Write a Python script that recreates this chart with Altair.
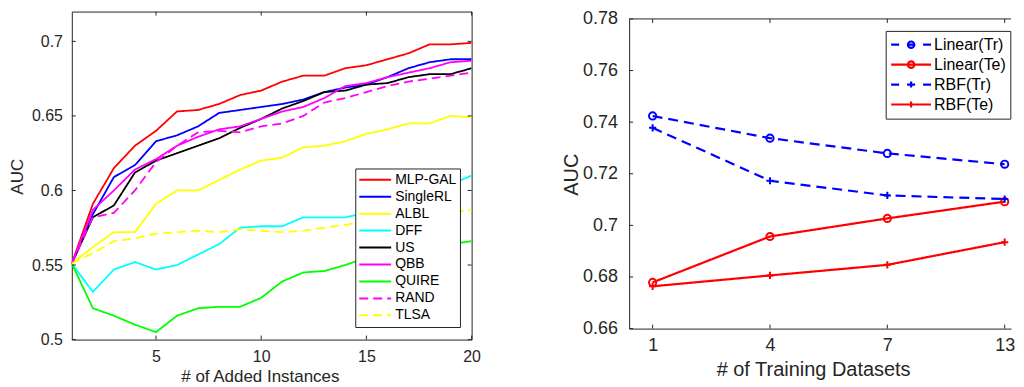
import json
import altair as alt
import pandas as pd

FONT = "Liberation Sans"
AX = "#262626"

# ---------------- left panel data ----------------
added = list(range(1, 21))
methods = ["MLP-GAL", "SingleRL", "ALBL", "DFF", "US", "QBB", "QUIRE", "RAND", "TLSA"]
method_colors = ["#ff0000", "#0000ff", "#ffff00", "#00ffff", "#000000",
                 "#ff00ff", "#00ff00", "#ff00ff", "#ffff00"]
method_dash = [[1, 0], [1, 0], [1, 0], [1, 0], [1, 0], [1, 0], [1, 0], [9, 5], [9, 5]]

mlp_gal = [0.551, 0.591, 0.615, 0.630, 0.640, 0.653, 0.654, 0.658, 0.664, 0.667,
           0.673, 0.677, 0.677, 0.682, 0.684, 0.688, 0.692, 0.698, 0.698, 0.699]
single_rl = [0.551, 0.584, 0.609, 0.617, 0.633, 0.637, 0.643, 0.652, 0.654, 0.656,
             0.658, 0.661, 0.666, 0.669, 0.671, 0.676, 0.682, 0.686, 0.688, 0.688]
albl = [0.551, 0.562, 0.572, 0.572, 0.591, 0.600, 0.600, 0.607, 0.614, 0.620,
        0.622, 0.629, 0.630, 0.633, 0.638, 0.641, 0.645, 0.645, 0.650, 0.649]
dff = [0.551, 0.532, 0.547, 0.552, 0.547, 0.550, 0.557, 0.564, 0.575, 0.576,
       0.576, 0.582, 0.582, 0.582, 0.585, 0.589, 0.594, 0.598, 0.604, 0.610]
us = [0.551, 0.582, 0.590, 0.612, 0.620, 0.625, 0.630, 0.635, 0.642, 0.648,
      0.655, 0.660, 0.666, 0.667, 0.671, 0.672, 0.676, 0.678, 0.678, 0.682]
qbb = [0.551, 0.587, 0.600, 0.614, 0.621, 0.630, 0.636, 0.641, 0.643, 0.648,
       0.653, 0.656, 0.662, 0.670, 0.672, 0.676, 0.679, 0.682, 0.686, 0.687]
quire = [0.551, 0.521, 0.516, 0.510, 0.505, 0.516, 0.521, 0.522, 0.522, 0.528,
         0.539, 0.545, 0.546, 0.550, 0.555, 0.558, 0.560, 0.562, 0.564, 0.566]
rand = [0.551, 0.582, 0.585, 0.600, 0.619, 0.630, 0.639, 0.640, 0.639, 0.643,
        0.645, 0.650, 0.659, 0.662, 0.666, 0.670, 0.673, 0.675, 0.677, 0.679]
tlsa = [0.551, 0.558, 0.566, 0.568, 0.571, 0.572, 0.573, 0.572, 0.574, 0.573,
        0.572, 0.573, 0.575, 0.577, 0.579, 0.580, 0.582, 0.583, 0.585, 0.587]
left_series = [mlp_gal, single_rl, albl, dff, us, qbb, quire, rand, tlsa]
left_xticks = [5, 10, 15, 20]
left_yticks = [0.5, 0.55, 0.6, 0.65, 0.7]

# ---------------- right panel data ----------------
datasets = ["1", "4", "7", "13"]
series = ["Linear(Tr)", "Linear(Te)", "RBF(Tr)", "RBF(Te)"]
series_colors = ["#0000ff", "#ff0000", "#0000ff", "#ff0000"]
series_dash = [[10, 6], [1, 0], [10, 6], [1, 0]]
linear_tr = [0.7424, 0.7338, 0.7279, 0.7237]
linear_te = [0.6779, 0.6957, 0.7027, 0.7092]
rbf_tr = [0.7378, 0.7173, 0.7116, 0.7102]
rbf_te = [0.6764, 0.6806, 0.6847, 0.6935]
right_series = [linear_tr, linear_te, rbf_tr, rbf_te]
right_yticks = [0.66, 0.68, 0.7, 0.72, 0.74, 0.76, 0.78]

# marker shapes (unit square paths)
CIRCLE = "circle"
PLUS = "M-1,0H1M0,-1V1"
LEG_TR_CIRCLE = "M-1,0H-0.6M-0.2,0H0.2M0.6,0H1M0.16,0A0.16,0.16,0,1,1,-0.16,0A0.16,0.16,0,1,1,0.16,0"
LEG_TE_CIRCLE = "M-1,0H1M0.16,0A0.16,0.16,0,1,1,-0.16,0A0.16,0.16,0,1,1,0.16,0"
LEG_TR_PLUS = "M-1,0H-0.6M-0.2,0H0.2M0.6,0H1M0,-0.15V0.15"
LEG_TE_PLUS = "M-1,0H1M0,-0.15V0.15"

ldf = pd.DataFrame([
    {"x": x, "auc": v, "method": m}
    for m, vals in zip(methods, left_series)
    for x, v in zip(added, vals)
])
rdf = pd.DataFrame([
    {"idx": i, "datasets": d, "auc": v, "series": s}
    for s, vals in zip(series, right_series)
    for i, (d, v) in enumerate(zip(datasets, vals))
])

# ---------------- left chart ----------------
LW, LH = 401, 329
lxs = alt.Scale(domain=[1, 20], nice=False, zero=False, padding=0)
lys = alt.Scale(domain=[0.5, 0.72], nice=False, zero=False, padding=0)

left_legend = alt.Legend(
    title=None, orient="none", legendX=284.3, legendY=157.4,
    symbolType="stroke", symbolSize=1024, symbolStrokeWidth=2,
    labelFontSize=14, labelFont=FONT, labelColor="#000000",
    clipHeight=16.6, rowPadding=0, padding=3, labelOffset=3,
    strokeColor=AX, fillColor="white",
)

left_lines = alt.Chart(ldf).mark_line(strokeWidth=1.8, clip=True).encode(
    x=alt.X("x:Q", scale=lxs, axis=alt.Axis(
        values=left_xticks, format="d", title="# of Added Instances",
        grid=False, ticks=False, tickSize=0, domain=False, labelFlush=False,
        labelFontSize=16, labelFont=FONT, labelColor=AX, labelPadding=8.5,
        titleFontSize=17, titleFont=FONT, titleFontWeight="normal", titleColor=AX,
        titleX=188.6, titleY=42.2, titleBaseline="alphabetic", titleAlign="center")),
    y=alt.Y("auc:Q", scale=lys, axis=alt.Axis(
        values=left_yticks, format="~g", title="AUC",
        grid=False, ticks=False, tickSize=0, domain=False,
        labelFontSize=16, labelFont=FONT, labelColor=AX, labelPadding=9.4,
        titleFontSize=17, titleFont=FONT, titleFontWeight="normal", titleColor=AX,
        titleAngle=270, titleX=-49.5, titleY=165.2, titleBaseline="alphabetic",
        titleAlign="center")),
    color=alt.Color("method:N", scale=alt.Scale(domain=methods, range=method_colors),
                    legend=left_legend),
    strokeDash=alt.StrokeDash("method:N", scale=alt.Scale(domain=methods, range=method_dash),
                              legend=left_legend),
)

lyt = pd.DataFrame({"auc": left_yticks})
lxt = pd.DataFrame({"x": left_xticks})
tick_l = alt.Chart(lyt).mark_rule(color=AX, strokeWidth=1).encode(
    y=alt.Y("auc:Q", scale=lys), x=alt.value(0), x2=alt.value(4))
tick_r = alt.Chart(lyt).mark_rule(color=AX, strokeWidth=1).encode(
    y=alt.Y("auc:Q", scale=lys), x=alt.value(LW - 4), x2=alt.value(LW))
tick_b = alt.Chart(lxt).mark_rule(color=AX, strokeWidth=1).encode(
    x=alt.X("x:Q", scale=lxs), y=alt.value(LH), y2=alt.value(LH - 4))
tick_t = alt.Chart(lxt).mark_rule(color=AX, strokeWidth=1).encode(
    x=alt.X("x:Q", scale=lxs), y=alt.value(0), y2=alt.value(4))

left = alt.layer(left_lines, tick_l, tick_r, tick_b, tick_t).properties(
    width=LW, height=LH,
    view=alt.ViewBackground(stroke=AX, strokeWidth=1),
)

# ---------------- right chart ----------------
RW = 383
RTOP, RPH = 7.4, 310.6          # plot frame offset and height inside the view
RH = RTOP + RPH
rxs = alt.Scale(domain=[-0.2, 3.054], nice=False, zero=False, padding=0)
rys = alt.Scale(domain=[0.66, 0.78], range=[RH, RTOP], nice=False, zero=False, padding=0)
label_expr = json.dumps(datasets) + "[datum.value]"

right_lines = alt.Chart(rdf).mark_line(strokeWidth=2.2).encode(
    x=alt.X("idx:Q", scale=rxs, axis=alt.Axis(
        values=[0, 1, 2, 3], labelExpr=label_expr, title="# of Training Datasets",
        grid=False, ticks=False, tickSize=0, domain=True, domainColor=AX, domainWidth=1,
        labelFlush=False,
        labelFontSize=18, labelFont=FONT, labelColor=AX, labelPadding=8.2,
        titleFontSize=20, titleFont=FONT, titleFontWeight="normal", titleColor=AX,
        titleX=184.5, titleY=47.4, titleBaseline="alphabetic", titleAlign="center")),
    y=alt.Y("auc:Q", scale=rys, axis=alt.Axis(
        values=right_yticks, format="~g", title="AUC",
        grid=False, ticks=False, tickSize=0, domain=True, domainColor=AX, domainWidth=1,
        labelFontSize=18, labelFont=FONT, labelColor=AX, labelPadding=11.7,
        titleFontSize=20, titleFont=FONT, titleFontWeight="normal", titleColor=AX,
        titleAngle=270, titleX=-52, titleY=163.2, titleBaseline="alphabetic",
        titleAlign="center")),
    color=alt.Color("series:N", scale=alt.Scale(domain=series, range=series_colors), legend=None),
    strokeDash=alt.StrokeDash("series:N", scale=alt.Scale(domain=series, range=series_dash),
                              legend=None),
)

right_pts = alt.Chart(rdf).mark_point(filled=False, strokeWidth=2, opacity=1).encode(
    x=alt.X("idx:Q", scale=rxs),
    y=alt.Y("auc:Q", scale=rys),
    color=alt.Color("series:N", scale=alt.Scale(domain=series, range=series_colors), legend=None),
    shape=alt.Shape("series:N", scale=alt.Scale(domain=series, range=[CIRCLE, CIRCLE, PLUS, PLUS]),
                    legend=None),
    size=alt.Size("series:N", scale=alt.Scale(domain=series, range=[52, 52, 36, 36]), legend=None),
)

right_legend = alt.Legend(
    title=None, orient="none", legendX=257.3, legendY=19.4,
    symbolSize=1600, symbolStrokeWidth=2.2, symbolFillColor="transparent",
    labelFontSize=16, labelFont=FONT, labelColor="#000000",
    clipHeight=19.7, rowPadding=0, padding=4, labelOffset=1.5,
    strokeColor=AX, fillColor="white",
    labelExpr="datum.label + '\u00a0\u00a0\u00a0\u00a0'",
)
right_leg = alt.Chart(rdf).mark_point(filled=False, strokeWidth=2.2, opacity=1).encode(
    x=alt.X("idx:Q", scale=rxs),
    y=alt.Y("auc:Q", scale=rys),
    color=alt.Color("series:N", scale=alt.Scale(domain=series, range=series_colors),
                    legend=right_legend),
    shape=alt.Shape("series:N", scale=alt.Scale(
        domain=series, range=[LEG_TR_CIRCLE, LEG_TE_CIRCLE, LEG_TR_PLUS, LEG_TE_PLUS]),
        legend=right_legend),
).transform_filter("false")

ryt = pd.DataFrame({"auc": right_yticks})
rxt = pd.DataFrame({"idx": [0, 1, 2, 3]})
rtick_l = alt.Chart(ryt).mark_rule(color=AX, strokeWidth=1).encode(
    y=alt.Y("auc:Q", scale=rys), x=alt.value(0), x2=alt.value(4))
rtick_b = alt.Chart(rxt).mark_rule(color=AX, strokeWidth=1).encode(
    x=alt.X("idx:Q", scale=rxs), y=alt.value(RH), y2=alt.value(RH - 4))
rtick_t = alt.Chart(rxt).mark_rule(color=AX, strokeWidth=1).encode(
    x=alt.X("idx:Q", scale=rxs), y=alt.value(RTOP), y2=alt.value(RTOP + 4))
rtop = alt.Chart(alt.Data(values=[{"a": 1}])).mark_rule(color=AX, strokeWidth=1).encode(
    x=alt.value(0), x2=alt.value(RW), y=alt.value(RTOP))

right = alt.layer(right_lines, right_pts, right_leg, rtick_l, rtick_b, rtick_t, rtop).resolve_scale(
    color="independent", shape="independent"
).properties(
    width=RW, height=RH,
    view=alt.ViewBackground(stroke="transparent"),
)

chart = alt.hconcat(left, right, spacing=79).resolve_scale(
    color="independent", strokeDash="independent", shape="independent", size="independent"
).properties(
    padding={"left": 0, "top": 0, "right": 0, "bottom": 0},
    background="white",
).configure_axis(grid=False)

chart.save("out.html", embed_options={"renderer": "svg", "actions": False})
